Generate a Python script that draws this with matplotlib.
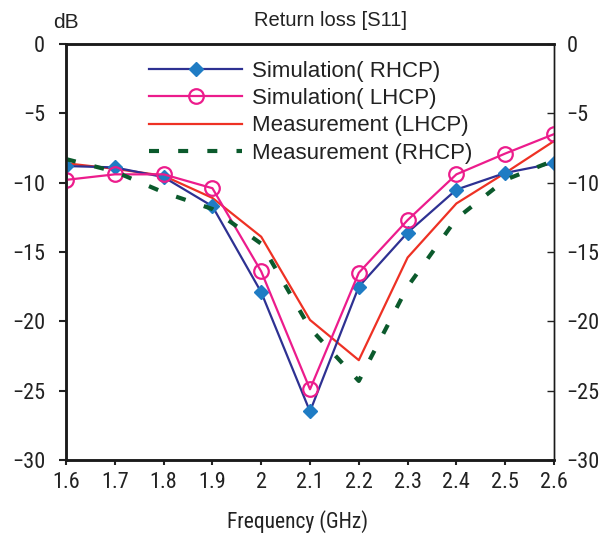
import matplotlib
matplotlib.use("Agg")
import matplotlib.pyplot as plt
from matplotlib import font_manager

# Frequency points (GHz) and return loss values (dB)
freq = [1.6, 1.7, 1.8, 1.9, 2.0, 2.1, 2.2, 2.3, 2.4, 2.5, 2.6]
sim_rhcp = [-8.8, -8.9, -9.6, -11.7, -17.9, -26.5, -17.5, -13.6, -10.5, -9.3, -8.6]
sim_lhcp = [-9.8, -9.4, -9.4, -10.4, -16.4, -24.9, -16.5, -12.7, -9.4, -7.9, -6.5]
meas_lhcp = [-8.6, -9.0, -9.5, -11.1, -13.9, -19.9, -22.8, -15.4, -11.5, -9.3, -7.0]
meas_rhcp = [-8.3, -9.2, -10.7, -11.9, -14.4, -20.5, -24.3, -17.5, -12.6, -9.8, -8.4]

xticks = [1.6, 1.7, 1.8, 1.9, 2.0, 2.1, 2.2, 2.3, 2.4, 2.5, 2.6]
xtick_labels = ["1.6", "1.7", "1.8", "1.9", "2", "2.1", "2.2", "2.3", "2.4", "2.5", "2.6"]
yticks = [0, -5, -10, -15, -20, -25, -30]
ytick_labels = ["0", "\u22125", "\u221210", "\u221215", "\u221220", "\u221225", "\u221230"]

installed = {f.name for f in font_manager.fontManager.ttflist}
narrow = next((n for n in ["Roboto Condensed", "Archivo Narrow", "Barlow Semi Condensed",
                           "Liberation Sans"] if n in installed), "DejaVu Sans")
regular = "Liberation Sans"
ink = "#222222"

plt.rcParams["lines.scale_dashes"] = False

fig = plt.figure(figsize=(6.01, 5.36), dpi=100)
ax = fig.add_axes([66 / 601, 1 - 460 / 536, (554 - 66) / 601, (460 - 44) / 536])

ax.plot(freq, sim_rhcp, color="#2e3192", lw=1.6, marker="D", ms=7.5,
        mfc="#1f7cc4", mec="#1f7cc4", label="Simulation( RHCP)", zorder=3)
ax.plot(freq, sim_lhcp, color="#ec1c8c", lw=1.6, marker="o", ms=10.5,
        mfc="none", mec="#ec1c8c", mew=1.6, label="Simulation( LHCP)", zorder=4)
ax.plot(freq, meas_lhcp, color="#ee3124", lw=1.6, label="Measurement (LHCP)", zorder=2)
ax.plot(freq, meas_rhcp, color="#0b5a2c", lw=3.0, dashes=[7.2, 13.8],
        dash_capstyle="butt", label="Measurement (RHCP)", zorder=5)

ax.set_xlim(1.6, 2.6)
ax.set_ylim(-30, 0)
ax.set_xticks(xticks)
ax.set_xticklabels(xtick_labels, family=narrow, fontsize=16)
ax.set_yticks(yticks)
ax.set_yticklabels(ytick_labels, family=narrow, fontsize=16)
ax.tick_params(axis="y", direction="out", length=5, width=1.5, pad=10,
               colors=ink, labelcolor=ink)
ax.tick_params(axis="x", direction="out", length=3.5, width=1.5, pad=5,
               colors=ink, labelcolor=ink)

ax2 = ax.twinx()
ax2.set_ylim(-30, 0)
ax2.set_yticks(yticks)
ax2.set_yticklabels(ytick_labels, family=narrow, fontsize=16)
ax2.tick_params(axis="y", direction="in", length=5, width=1.0, pad=9,
                colors=ink, labelcolor=ink)

for a in (ax, ax2):
    for name, s in a.spines.items():
        s.set_color("#1a1a1a")
        s.set_linewidth(1.0 if name == "right" else 1.8)

ax.set_xlabel("Frequency (GHz)", family=narrow, fontsize=15.5, color=ink)
ax.xaxis.set_label_coords((298 - 66) / 488, -(510 - 460) / 416)

fig.text(330 / 601, 1 - 20 / 536, "Return loss [S11]", family=regular, fontsize=14.5,
         color=ink, ha="center", va="center")
fig.text(66 / 601, 1 - 22 / 536, "dB", family=regular, fontsize=15,
         color=ink, ha="center", va="center")

leg = ax.legend(loc="upper left", bbox_to_anchor=(140 / 601, 1 - 52 / 536),
                bbox_transform=fig.transFigure, frameon=False,
                prop={"family": regular, "size": 16}, handlelength=4.2,
                handletextpad=0.45, labelspacing=0.28, borderaxespad=0)
for t in leg.get_texts():
    t.set_color(ink)

fig.savefig("out.png", dpi=100)
